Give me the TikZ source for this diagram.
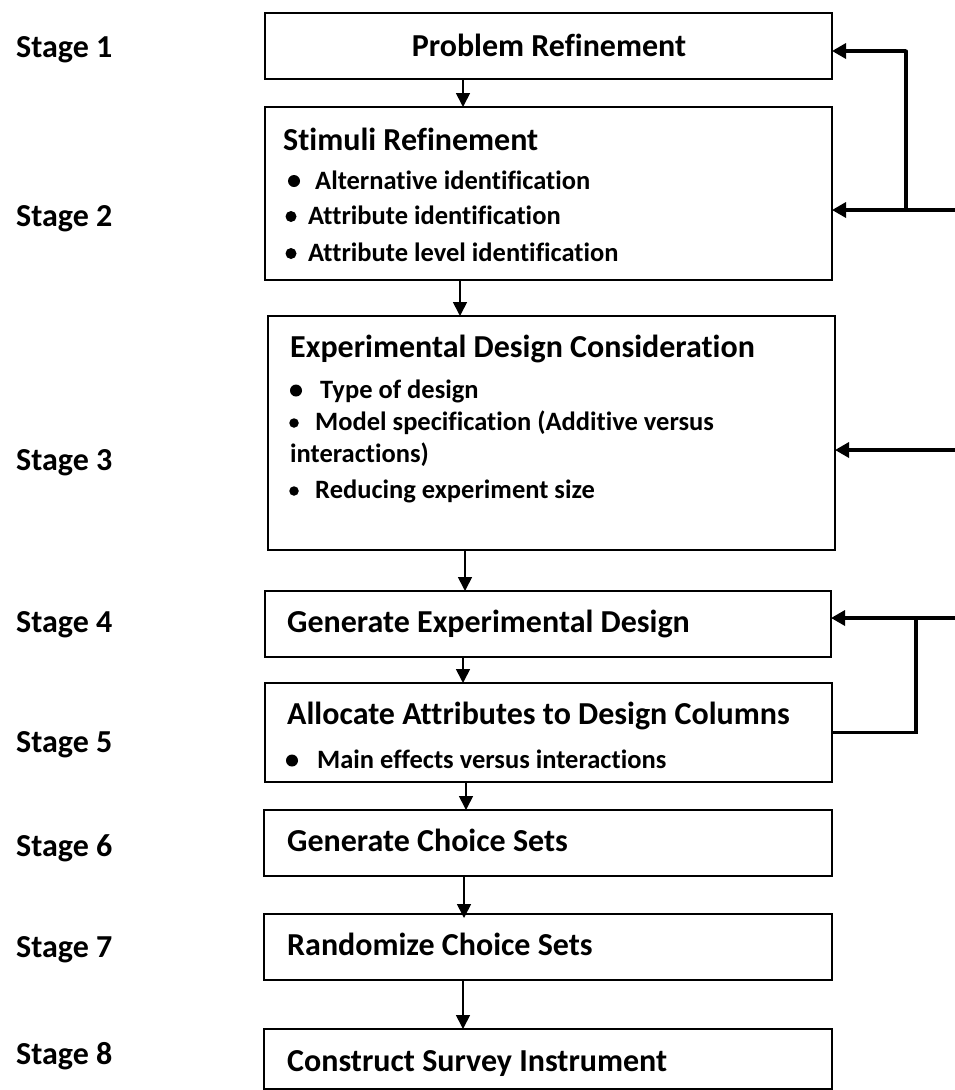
\documentclass[tikz,border=0pt]{standalone}
\usepackage{fontspec}
\setmainfont{Carlito}[Ligatures={NoCommon}]
\usetikzlibrary{arrows.meta}
\begin{document}
\begin{tikzpicture}[x=1pt,y=-1pt,
  box/.style={draw,line width=1.8pt,inner sep=0pt,outer sep=0pt},
  hd/.style={font=\fontsize{32}{36}\selectfont\bfseries,inner sep=0pt,anchor=base west},
  itm/.style={font=\fontsize{26.5}{30}\selectfont\bfseries,inner sep=0pt,anchor=base west},
  stg/.style={font=\fontsize{32}{36}\selectfont\bfseries,inner sep=0pt,anchor=base west},
  bul/.style={circle,fill,draw=none,inner sep=0pt,minimum size=#1},
  bul/.default=10pt,
  dn/.style={-{Triangle[length=14pt,width=14pt]},line width=1.7pt},
  fb/.style={-{Triangle[length=14pt,width=15pt]},line width=3.3pt},
  fl/.style={line width=3.3pt,line cap=round}
]
\useasboundingbox (0,0) rectangle (955,1090);

% boxes
\node[box,minimum width=567pt,minimum height=66pt] (b1) at (548.5,46) {};
\node[box,minimum width=567pt,minimum height=173pt] (b2) at (548.5,193.5) {};
\node[box,minimum width=567pt,minimum height=234pt] (b3) at (551.5,433) {};
\node[box,minimum width=566pt,minimum height=66pt] (b4) at (548,624) {};
\node[box,minimum width=567pt,minimum height=99pt] (b5) at (548.5,732.5) {};
\node[box,minimum width=568pt,minimum height=66pt] (b6) at (548,843) {};
\node[box,minimum width=568pt,minimum height=66pt] (b7) at (548,947) {};
\node[box,minimum width=568pt,minimum height=60pt] (b8) at (548,1059) {};

% stage labels
\node[stg] (s1) at (16,57) {Stage 1};
\node[stg] (s2) at (16,226) {Stage 2};
\node[stg] (s3) at (16,470) {Stage 3};
\node[stg] (s4) at (16,632) {Stage 4};
\node[stg] (s5) at (16,752) {Stage 5};
\node[stg] (s6) at (16,856) {Stage 6};
\node[stg] (s7) at (16,957) {Stage 7};
\node[stg] (s8) at (16,1064) {Stage 8};

% box 1
\node[hd,anchor=base] (t1) at (549,56) {Problem Refinement};

% box 2
\node[hd] (t2) at (283,150) {Stimuli Refinement};
\node[bul=12pt] (p21) at (294,181) {};
\node[itm] (t21) at (315,189) {Alternative identification};
\node[bul=11pt] (p22) at (291,216.5) {};
\node[itm] (t22) at (308,224) {Attribute identification};
\node[bul=11pt] (p23) at (291,253.5) {};
\node[itm] (t23) at (308,261) {Attribute level identification};

% box 3
\node[hd] (t3) at (290,357) {Experimental Design Consideration};
\node[bul=12pt] (p31) at (296,390.5) {};
\node[itm] (t31) at (320,398.5) {Type of design};
\node[bul=9.5pt] (p32) at (294,423) {};
\node[itm] (t32) at (315,430.5) {Model specification (Additive versus};
\node[itm] (t33) at (290,462.5) {interactions)};
\node[bul=9.5pt] (p34) at (294,491) {};
\node[itm] (t34) at (315,498.5) {Reducing experiment size};

% box 4
\node[hd] (t4) at (287,632) {Generate Experimental Design};

% box 5
\node[hd] (t5) at (287,724) {Allocate Attributes to Design Columns};
\node[bul=12pt] (p51) at (292,760.5) {};
\node[itm] (t51) at (317,768.5) {Main effects versus interactions};

% boxes 6-8
\node[hd] (t6) at (287,851) {Generate Choice Sets};
\node[hd] (t7) at (287,955) {Randomize Choice Sets};
\node[hd] (t8) at (287,1071) {Construct Survey Instrument};

% downward connectors
\draw[dn] (463,0 |- b1.south) -- (463,0 |- b2.north);
\draw[dn] (460,0 |- b2.south) -- (460,0 |- b3.north);
\draw[dn] (465,0 |- b3.south) -- (465,0 |- b4.north);
\draw[dn] (463,0 |- b4.south) -- (463,0 |- b5.north);
\draw[dn] (466,0 |- b5.south) -- (466,0 |- b6.north);
\draw[dn] (464,0 |- b6.south) -- ([yshift=-4pt]464,0 |- b7.north);
\draw[dn] (463,0 |- b7.south) -- (463,0 |- b8.north);

% feedback connectors
\coordinate (j1) at (906,51);
\coordinate (e2) at (955,210);
\coordinate (e3) at (955,450);
\coordinate (e4) at (955,618);
\coordinate (j4) at (916,618);
\draw[fl] (j1) -- (j1 |- e2);
\draw[fb] (j1) -- (j1 -| b1.east);
\draw[fb] (e2) -- (e2 -| b2.east);
\draw[fb] (e3) -- (e3 -| b3.east);
\draw[fb] (e4) -- (e4 -| b4.east);
\draw[fl,line cap=butt] (j4) -- (j4 |- b5.east) -- (b5.east);
\end{tikzpicture}
\end{document}
